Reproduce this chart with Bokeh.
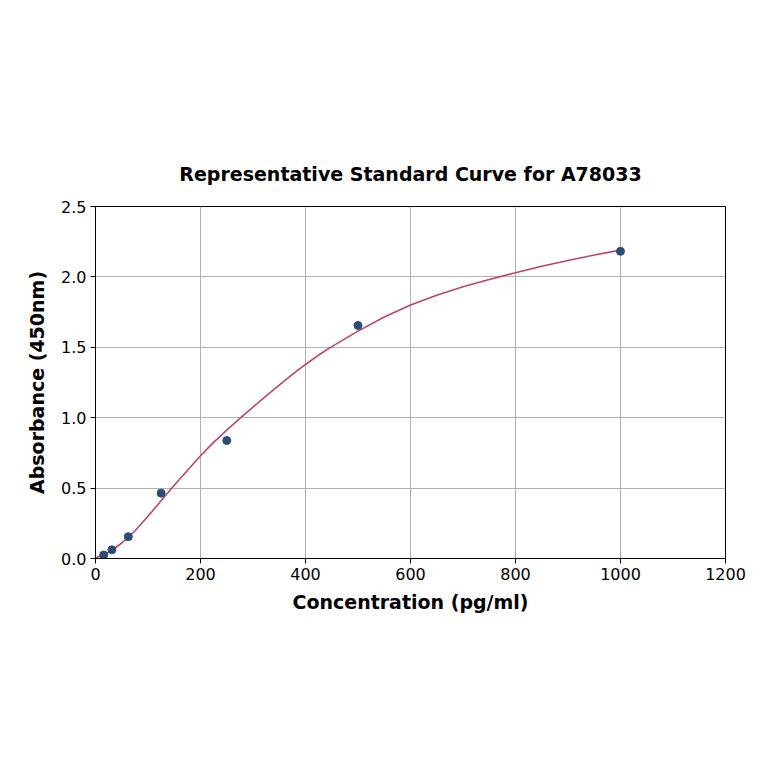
from bokeh.plotting import figure
from bokeh.models import FixedTicker, Range1d
from bokeh.embed import file_html
from bokeh.resources import INLINE

# standard points
conc = [15.625, 31.25, 62.5, 125, 250, 500, 1000]
absorb = [0.025, 0.062, 0.155, 0.464, 0.838, 1.655, 2.182]

# fitted curve
curve_x = [0, 15, 30, 50, 75, 100, 125, 150, 175, 200, 225, 250, 275, 300, 325,
           350, 375, 400, 425, 450, 475, 500, 550, 600, 650, 700, 750, 800, 850,
           900, 950, 1000]
curve_y = [0.005, 0.025, 0.055, 0.11, 0.195, 0.30, 0.41, 0.52, 0.625, 0.73, 0.825,
           0.912, 0.995, 1.075, 1.155, 1.232, 1.307, 1.378, 1.445, 1.505, 1.56, 1.615,
           1.715, 1.80, 1.87, 1.93, 1.982, 2.03, 2.075, 2.117, 2.155, 2.19]

x_ticks = [0, 200, 400, 600, 800, 1000, 1200]
y_ticks = [0.0, 0.5, 1.0, 1.5, 2.0, 2.5]

FONT = "DejaVu Sans"

p = figure(width=756, height=756, output_backend="svg", toolbar_location=None,
           x_range=Range1d(0, 1200), y_range=Range1d(0, 2.5),
           title="Representative Standard Curve for A78033",
           min_border_left=95, min_border_right=31,
           min_border_top=206, min_border_bottom=198)

p.title.align = "center"
p.title.text_font = FONT
p.title.text_font_size = "19px"
p.title.text_font_style = "bold"
p.title.text_color = "black"
p.title.standoff = 44

p.outline_line_color = "black"
p.outline_line_width = 1

p.xaxis.ticker = FixedTicker(ticks=x_ticks)
p.yaxis.ticker = FixedTicker(ticks=y_ticks)
p.yaxis.major_label_overrides = {t: "%.1f" % t for t in y_ticks}
p.xaxis.axis_label = "Concentration (pg/ml)"
p.yaxis.axis_label = "Absorbance (450nm)"

for ax in (p.xaxis, p.yaxis):
    ax.axis_label_text_font = FONT
    ax.axis_label_text_font_size = "19px"
    ax.axis_label_text_font_style = "bold"
    ax.axis_label_text_color = "black"
    ax.major_label_text_font = FONT
    ax.major_label_text_font_size = "16px"
    ax.major_label_text_color = "black"
    ax.axis_line_color = "black"
    ax.major_tick_line_color = "black"
    ax.major_tick_out = 5
    ax.major_tick_in = 0
    ax.minor_tick_line_color = None
    ax.major_label_standoff = 4

p.xaxis.axis_label_standoff = 8
p.yaxis.axis_label_standoff = 10

p.xgrid.grid_line_color = "#b0b0b0"
p.ygrid.grid_line_color = "#b0b0b0"
p.xgrid.grid_line_width = 1
p.ygrid.grid_line_width = 1

p.line(curve_x, curve_y, line_color="#b5476e", line_width=1.6)
p.scatter(conc, absorb, size=8, fill_color="#2c4c74", line_color="#2c4c74")

open("out.html", "w").write(file_html(p, INLINE))
